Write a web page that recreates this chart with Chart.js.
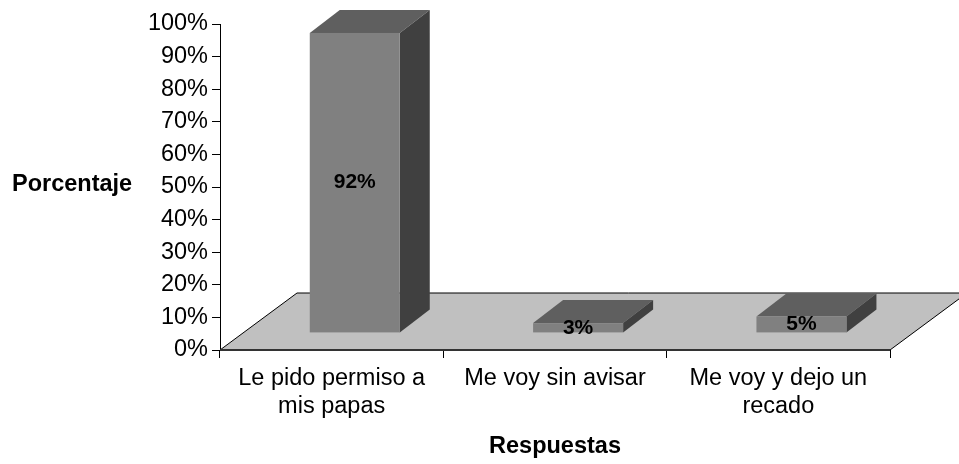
<!DOCTYPE html>
<html lang="es">
<head>
  <meta charset="UTF-8" />
  <title>Respuestas</title>
  <script src="https://cdn.jsdelivr.net/npm/chart.js"></script>
  <style>
    html, body { margin: 0; padding: 0; background: #fff; }
  </style>
</head>
<body>
  <canvas id="respuestasChart" width="959" height="464"></canvas>

  <script>
    const categorias = [['Le pido permiso a', 'mis papas'], 'Me voy sin avisar', ['Me voy y dejo un', 'recado']];
    const porcentajes = [92, 3, 5];
    const marcasY = [0, 10, 20, 30, 40, 50, 60, 70, 80, 90, 100];

    const FUENTE = '"Liberation Sans", Arial, sans-serif';

    // profundidad del piso y de las barras (vista 3D)
    const PISO = { dx: 77, dy: -57 };
    const FRENTE = 0.3;               // plano frontal de las barras, fraccion del piso
    const FONDO_BARRA = { dx: 30, dy: -23 };

    function poligono(ctx, pts, color) {
      ctx.beginPath();
      ctx.moveTo(pts[0][0], pts[0][1]);
      for (let i = 1; i < pts.length; i++) ctx.lineTo(pts[i][0], pts[i][1]);
      ctx.closePath();
      ctx.fillStyle = color;
      ctx.fill();
    }

    const efecto3d = {
      id: 'efecto3d',
      beforeDatasetsDraw(chart) {
        const { ctx, chartArea: a } = chart;
        ctx.save();
        ctx.beginPath();
        ctx.moveTo(a.left, a.bottom);
        ctx.lineTo(a.left + PISO.dx, a.bottom + PISO.dy);
        ctx.lineTo(a.right + PISO.dx, a.bottom + PISO.dy);
        ctx.lineTo(a.right, a.bottom);
        ctx.closePath();
        ctx.fillStyle = '#c0c0c0';
        ctx.fill();
        ctx.strokeStyle = '#000';
        ctx.lineWidth = 1;
        ctx.stroke();

        // borde frontal del piso
        ctx.beginPath();
        ctx.moveTo(a.left, a.bottom);
        ctx.lineTo(a.right, a.bottom);
        ctx.strokeStyle = '#333';
        ctx.lineWidth = 2;
        ctx.stroke();
        ctx.restore();
      },
      afterDatasetsDraw(chart) {
        const ctx = chart.ctx;
        const ox = PISO.dx * FRENTE, oy = PISO.dy * FRENTE;
        ctx.save();
        chart.getDatasetMeta(0).data.forEach((bar, i) => {
          const { x, y, base, width } = bar.getProps(['x', 'y', 'base', 'width'], true);
          const l = x - width / 2 + ox, r = x + width / 2 + ox;
          const t = y + oy, b = base + oy;
          const dx = FONDO_BARRA.dx, dy = FONDO_BARRA.dy;

          poligono(ctx, [[l, t], [l + dx, t + dy], [r + dx, t + dy], [r, t]], '#5f5f5f');
          poligono(ctx, [[r, t], [r + dx, t + dy], [r + dx, b + dy], [r, b]], '#404040');
          ctx.fillStyle = '#808080';
          ctx.fillRect(l, t, r - l, b - t);

          ctx.font = 'bold 21px ' + FUENTE;
          ctx.textAlign = 'center';
          ctx.textBaseline = 'middle';
          ctx.fillStyle = '#000';
          ctx.fillText(porcentajes[i] + '%', (l + r) / 2, (t + b) / 2);
        });
        ctx.restore();
      },
      afterDraw(chart) {
        const ctx = chart.ctx;
        ctx.save();
        ctx.font = 'bold 23.5px ' + FUENTE;
        ctx.textAlign = 'left';
        ctx.textBaseline = 'middle';
        ctx.fillStyle = '#000';
        ctx.fillText('Porcentaje', 12, 185);
        ctx.restore();
      }
    };

    new Chart(document.getElementById('respuestasChart'), {
      type: 'bar',
      data: {
        labels: categorias,
        datasets: [{
          label: 'Porcentaje',
          data: porcentajes,
          backgroundColor: 'rgba(0,0,0,0)',
          borderWidth: 0,
          categoryPercentage: 1,
          barPercentage: 0.403
        }]
      },
      options: {
        responsive: false,
        animation: false,
        devicePixelRatio: 1,
        layout: { padding: { top: 24, right: 69, bottom: 0, left: 0 } },
        plugins: {
          legend: { display: false },
          tooltip: { enabled: false }
        },
        scales: {
          x: {
            grid: { display: true, drawOnChartArea: false, drawTicks: true, tickLength: 8, color: '#000', offset: true },
            border: { display: false },
            ticks: {
              color: '#000',
              font: { family: FUENTE, size: 23.5, lineHeight: 1.2 },
              padding: 6,
              maxRotation: 0,
              autoSkip: false
            },
            title: {
              display: true,
              text: 'Respuestas',
              color: '#000',
              font: { family: FUENTE, size: 23.5, weight: 'bold', lineHeight: 1.2 },
              padding: { top: 0, bottom: 3 }
            },
            afterFit(scale) {
              scale.height = 114;
              scale.paddingLeft = 0;
              scale.paddingRight = 0;
            }
          },
          y: {
            min: 0,
            max: 100,
            grid: { display: true, drawOnChartArea: false, drawTicks: true, tickLength: 8, color: '#000' },
            border: { display: true, color: '#000', width: 1 },
            ticks: {
              color: '#000',
              font: { family: FUENTE, size: 23.5 },
              padding: 4,
              callback: v => v + '%'
            },
            afterBuildTicks(scale) {
              scale.ticks = marcasY.map(v => ({ value: v }));
            },
            afterFit(scale) {
              scale.width = 220;
              scale.paddingTop = 0;
              scale.paddingBottom = 0;
            }
          }
        }
      },
      plugins: [efecto3d]
    });
  </script>
</body>
</html>
